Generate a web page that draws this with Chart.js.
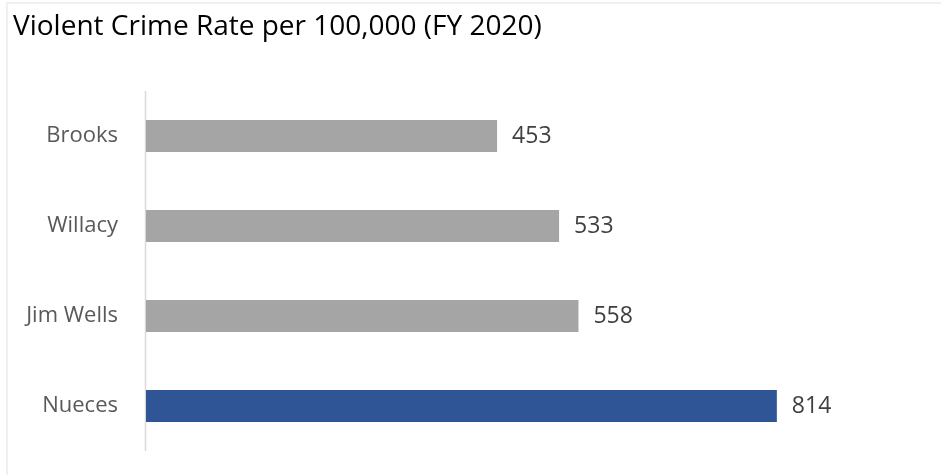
<!DOCTYPE html>
<html>
<head>
<meta charset="utf-8">
<script src="https://cdn.jsdelivr.net/npm/chart.js@4.4.1/dist/chart.umd.min.js"></script>
<style>
  html, body { margin: 0; padding: 0; background: #fff; }
  #wrap { position: relative; width: 941px; height: 475px; }
  #frame { position: absolute; left: 6px; top: 2px; right: -2px; bottom: -2px; border: 2px solid #f0f0f0; }
  canvas { position: absolute; left: 0; top: 0; }
</style>
</head>
<body>
<div id="wrap">
  <div id="frame"></div>
  <canvas id="crimeChart" width="941" height="475"></canvas>
</div>
<script>
var counties = ['Brooks', 'Willacy', 'Jim Wells', 'Nueces'];
var crimeRate = [453, 533, 558, 814];
var barColors = ['#a5a5a5', '#a5a5a5', '#a5a5a5', '#2f5597'];

var fontFamily = '"Open Sans", "Liberation Sans", Arial, sans-serif';

// value printed to the right of each bar
var valueLabels = {
  id: 'valueLabels',
  afterDatasetsDraw: function(chart) {
    var ctx = chart.ctx;
    var meta = chart.getDatasetMeta(0);
    ctx.save();
    ctx.font = '23px ' + fontFamily;
    ctx.fillStyle = '#404040';
    ctx.textAlign = 'left';
    ctx.textBaseline = 'middle';
    meta.data.forEach(function(bar, i) {
      ctx.fillText(crimeRate[i], bar.x + 15, bar.y);
    });
    ctx.restore();
  }
};

// left axis line
var axisLine = {
  id: 'axisLine',
  beforeDatasetsDraw: function(chart) {
    var a = chart.chartArea;
    var ctx = chart.ctx;
    ctx.save();
    ctx.strokeStyle = '#d9d9d9';
    ctx.lineWidth = 1.5;
    ctx.beginPath();
    ctx.moveTo(a.left - 0.5, a.top);
    ctx.lineTo(a.left - 0.5, a.bottom);
    ctx.stroke();
    ctx.restore();
  }
};

var ctx = document.getElementById('crimeChart').getContext('2d');
var myChart = new Chart(ctx, {
  type: 'bar',
  plugins: [valueLabels, axisLine],
  data: {
    labels: counties,
    datasets: [{
      data: crimeRate,
      backgroundColor: barColors,
      borderWidth: 0,
      categoryPercentage: 1,
      barPercentage: 0.355
    }]
  },
  options: {
    indexAxis: 'y',
    responsive: false,
    maintainAspectRatio: false,
    animation: false,
    layout: {
      padding: { left: 13, right: 20, top: 6, bottom: 24 }
    },
    scales: {
      x: {
        display: false,
        min: 0,
        max: 1000
      },
      y: {
        // tick marks hidden, tickLength only spaces the labels from the axis
        grid: { display: false, drawTicks: true, tickLength: 28 },
        border: { display: false },
        ticks: {
          color: '#595959',
          padding: 0,
          font: { family: fontFamily, size: 22 }
        },
        afterFit: function(scale) {
          scale.width = 133;
        }
      }
    },
    plugins: {
      legend: { display: false },
      tooltip: { enabled: false },
      title: {
        display: true,
        text: 'Violent Crime Rate per 100,000 (FY 2020)',
        align: 'start',
        color: '#000000',
        padding: { top: 4, bottom: 47.4 },
        font: { family: fontFamily, size: 28, weight: 'normal' }
      }
    }
  }
});
</script>
</body>
</html>
